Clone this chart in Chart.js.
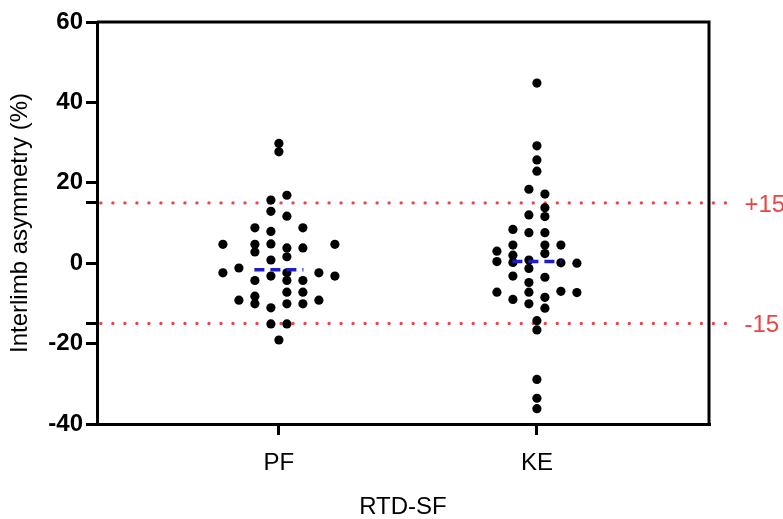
<!DOCTYPE html>
<html>
<head>
<meta charset="utf-8">
<script src="https://cdn.jsdelivr.net/npm/chart.js@4"></script>
<style>
  html, body { margin: 0; padding: 0; background: #fff; }
  #wrap { width: 783px; height: 519px; }
</style>
</head>
<body>
<div id="wrap"><canvas id="asym_chart"></canvas></div>
<script>
// categories and values
const categories = ['PF', 'KE'];

// PF: value and beeswarm column (column 0 = centre)
const pfValues = [29.8, 27.7, -19.1,
    15.7, 12.9, 7.9, 4.8, 0.8, -3.2, -11.1, -15.1,
    16.9, 11.7, 3.8, 1.6, -2.4, -4.3, -7.2, -10.1, -15.1,
    8.8, 4.7, 2.8, -4.3, -8.2, -10.1,
    8.8, 3.8, -4.3, -7.2, -10.1,
    -1.2, -9.2,
    -2.4, -9.2,
    4.7, -2.4,
    4.7, -3.2];
const pfColumns = [0, 0, 0,
    -0.5, -0.5, -0.5, -0.5, -0.5, -0.5, -0.5, -0.5,
    0.5, 0.5, 0.5, 0.5, 0.5, 0.5, 0.5, 0.5, 0.5,
    -1.5, -1.5, -1.5, -1.5, -1.5, -1.5,
    1.5, 1.5, 1.5, 1.5, 1.5,
    -2.5, -2.5,
    2.5, 2.5,
    -3.5, -3.5,
    3.5, 3.5];

// KE
const keValues = [44.8, 29.2, 25.7, 22.9, -14.3, -16.6, -28.9, -33.6, -36.2,
    18.4, 12.0, 7.6, 0.8, -1.3, -4.8, -7.2, -10.1,
    17.2, 13.8, 11.6, 7.6, 4.5, 2.4, -3.5, -8.5, -11.2,
    8.4, 4.5, 2.0, 0.2, -3.2, -9.0,
    4.5, 0.1, -7.0,
    3.0, 0.4, -7.2,
    0.0, -7.3];
const keColumns = [0, 0, 0, 0, 0, 0, 0, 0, 0,
    -0.5, -0.5, -0.5, -0.5, -0.5, -0.5, -0.5, -0.5,
    0.5, 0.5, 0.5, 0.5, 0.5, 0.5, 0.5, 0.5, 0.5,
    -1.5, -1.5, -1.5, -1.5, -1.5, -1.5,
    1.5, 1.5, 1.5,
    -2.5, -2.5, -2.5,
    2.5, 2.5];

const medians = [-1.6, 0.4];
const thresholds = [15, -15];
const thresholdLabels = ['+15', '-15'];
const yTickValues = [-40, -20, -15, 0, 15, 20, 40, 60];

const FONT = 'Liberation Sans, Arial, sans-serif';
const colW = 0.062;      // width of one swarm column in x units
const medHalf = 0.095;   // half length of the median bar
const lineFrom = 0.31, lineTo = 2.75;

function swarm(values, cols, cat) {
    return values.map((v, i) => ({ x: cat + 1 + cols[i] * colW, y: v }));
}

const datasets = [
    { data: swarm(pfValues, pfColumns, 0) },
    { data: swarm(keValues, keColumns, 1) }
].map(d => Object.assign(d, {
    pointRadius: 4.6,
    pointBackgroundColor: '#000',
    pointBorderWidth: 0,
    showLine: false
}));

medians.forEach((m, i) => {
    datasets.push({
        data: [{ x: i + 1 - medHalf, y: m }, { x: i + 1 + medHalf, y: m }],
        showLine: true,
        borderColor: '#1c1cc8',
        borderWidth: 3.5,
        borderDash: [10, 6],
        pointRadius: 0,
        order: -1
    });
});

thresholds.forEach(t => {
    datasets.push({
        data: [{ x: lineFrom, y: t }, { x: lineTo, y: t }],
        showLine: true,
        borderColor: '#ee4444',
        borderWidth: 3.4,
        borderDash: [0.01, 12],
        borderCapStyle: 'round',
        pointRadius: 0,
        clip: false,
        order: 5
    });
});

const framePlugin = {
    id: 'frame',
    afterDatasetsDraw(chart) {
        const { ctx, chartArea: a, scales } = chart;
        ctx.save();
        ctx.strokeStyle = '#000';
        ctx.lineWidth = 3;
        ctx.beginPath();
        ctx.moveTo(a.left, a.top);
        ctx.lineTo(a.right, a.top);
        ctx.lineTo(a.right, a.bottom);
        ctx.stroke();
        // threshold labels
        ctx.fillStyle = '#ee4444';
        ctx.font = '24px ' + FONT;
        ctx.textAlign = 'left';
        ctx.textBaseline = 'middle';
        thresholds.forEach((t, i) => {
            ctx.fillText(thresholdLabels[i],
                scales.x.getPixelForValue(lineTo) + 14,
                scales.y.getPixelForValue(t) + 2);
        });
        ctx.restore();
    }
};

const asym_chart = new Chart(document.getElementById('asym_chart'), {
    type: 'scatter',
    data: { datasets: datasets },
    plugins: [framePlugin],
    options: {
        responsive: true,
        maintainAspectRatio: false,
        animation: false,
        layout: { padding: { top: 22, right: 74, left: 0, bottom: 0 } },
        plugins: { legend: { display: false }, tooltip: { enabled: false } },
        scales: {
            x: {
                type: 'linear',
                min: 0.295,
                max: 2.667,
                afterBuildTicks: s => { s.ticks = categories.map((c, i) => ({ value: i + 1 })); },
                afterFit: s => { s.height = 95; },
                ticks: {
                    callback: v => categories[Math.round(v) - 1] || '',
                    color: '#000',
                    font: { family: FONT, size: 24 },
                    padding: 14,
                    maxRotation: 0
                },
                grid: { display: true, drawOnChartArea: false, drawTicks: true, tickLength: 11, color: '#000', lineWidth: 3 },
                border: { display: true, color: '#000', width: 3 },
                title: { display: true, text: 'RTD-SF', color: '#000', font: { family: FONT, size: 24 }, padding: { top: 10, bottom: -3 } }
            },
            y: {
                min: -40,
                max: 60,
                afterBuildTicks: s => { s.ticks = yTickValues.map(v => ({ value: v })); },
                afterFit: s => { s.width = 97; },
                ticks: {
                    callback: v => (v % 20 === 0 ? v : ''),
                    color: '#000',
                    font: { family: FONT, size: 24, weight: 'bold' },
                    padding: 3
                },
                grid: { display: true, drawOnChartArea: false, drawTicks: true, tickLength: 11, color: '#000', lineWidth: 3 },
                border: { display: true, color: '#000', width: 3 },
                title: { display: true, text: 'Interlimb asymmetry (%)', color: '#000', font: { family: FONT, size: 24 }, padding: { top: 6, bottom: 4 } }
            }
        }
    }
});
</script>
</body>
</html>
